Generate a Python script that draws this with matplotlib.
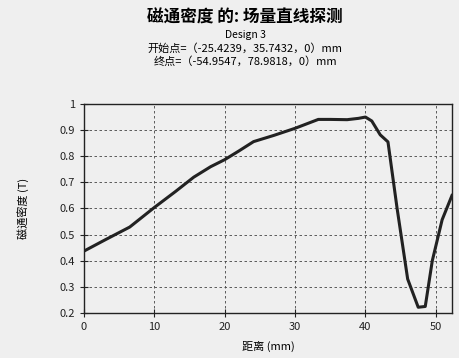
import matplotlib
matplotlib.use("Agg")
import matplotlib.pyplot as plt

plt.rcParams["font.family"] = ["Noto Sans CJK SC", "DejaVu Sans"]

# distance along line (mm) and flux density (T)
distance = [0, 3, 6.5, 10, 13, 15.6, 18, 20, 22, 24.1, 27, 30, 33.3, 35, 37.4, 39, 40,
            40.9, 42.1, 43.2, 44.5, 46, 47.5, 48.5, 49.5, 50.9, 52.3]
flux = [0.437, 0.48, 0.529, 0.604, 0.665, 0.72, 0.76, 0.787, 0.82, 0.856, 0.88, 0.907,
        0.941, 0.941, 0.94, 0.945, 0.95, 0.935, 0.882, 0.855, 0.6, 0.33, 0.222, 0.225,
        0.4, 0.557, 0.65]

title = "磁通密度 的: 场量直线探测"
subtitle = "Design 3"
start_txt = "开始点=（-25.4239，35.7432，0）mm"
end_txt = "终点=（-54.9547，78.9818，0）mm"

bg = "#efefef"
fig = plt.figure(figsize=(4.6, 3.58), dpi=100, facecolor=bg)
ax = fig.add_axes([0.1826, 0.1257, 0.8, 0.5838], facecolor=bg)

ax.plot(distance, flux, color="#222222", linewidth=2.2)
ax.set_xlim(0, 52.3)
ax.set_ylim(0.2, 1.0)
ax.set_xticks([0, 10, 20, 30, 40, 50])
ax.set_yticks([0.2, 0.3, 0.4, 0.5, 0.6, 0.7, 0.8, 0.9, 1])
ax.set_yticklabels(["0.2", "0.3", "0.4", "0.5", "0.6", "0.7", "0.8", "0.9", "1"])
ax.grid(True, color="#444444", linestyle=(0, (3, 3)), linewidth=0.6)
ax.tick_params(direction="inout", length=6, labelsize=8, colors="#222222")
for s in ax.spines.values():
    s.set_color("#222222")
    s.set_linewidth(1.0)

ax.set_xlabel("距离 (mm)", fontsize=8, labelpad=6)
ax.set_ylabel("磁通密度 (T)", fontsize=8, labelpad=22)

fig.text(0.533, 0.952, title, ha="center", va="center", fontsize=12, fontweight="bold")
fig.text(0.533, 0.902, subtitle, ha="center", va="center", fontsize=7.5)
fig.text(0.533, 0.866, start_txt, ha="center", va="center", fontsize=8)
fig.text(0.533, 0.828, end_txt, ha="center", va="center", fontsize=8)

fig.savefig("out.png", dpi=100, facecolor=bg)
